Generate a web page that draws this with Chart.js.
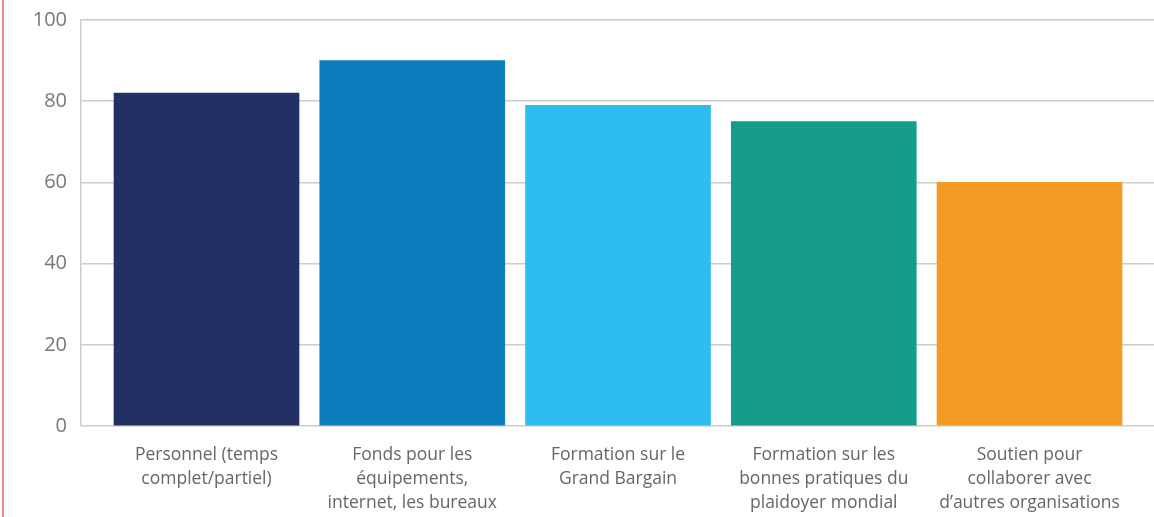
<!DOCTYPE html>
<html>
<head>
<meta charset="utf-8">
<script src="https://cdn.jsdelivr.net/npm/chart.js@4/dist/chart.umd.min.js"></script>
<style>
html,body{margin:0;padding:0;background:#fff;}
#wrap{position:relative;width:1154px;height:517px;}
#redline{position:absolute;left:2px;top:0;width:2px;height:517px;background:#f08a80;}
</style>
</head>
<body>
<div id="wrap">
<canvas id="c" width="1154" height="517"></canvas>
<div id="redline"></div>
</div>
<script>
const categories = [
  ["Personnel (temps", "complet/partiel)"],
  ["Fonds pour les", "équipements,", "internet, les bureaux"],
  ["Formation sur le", "Grand Bargain"],
  ["Formation sur les", "bonnes pratiques du", "plaidoyer mondial"],
  ["Soutien pour", "collaborer avec", "d’autres organisations"]
];
const values = [82, 90, 79, 75, 60];
const barColors = ["#233066", "#0e7dbf", "#2ebdf0", "#169c8b", "#f59a24"];
const yTicks = [0, 20, 40, 60, 80, 100];

const points = values.map((v, i) => ({x: i, y: v}));

new Chart(document.getElementById('c'), {
  type: 'bar',
  data: {
    datasets: [{
      data: points,
      backgroundColor: barColors,
      borderWidth: 0,
      barThickness: 185
    }]
  },
  options: {
    responsive: false,
    animation: false,
    layout: {padding: {top: 0, right: 0, bottom: 0, left: 0}},
    plugins: {legend: {display: false}, tooltip: {enabled: false}},
    scales: {
      x: {
        type: 'linear',
        offset: false,
        min: -0.61,
        max: 4.605,
        afterBuildTicks: (axis) => { axis.ticks = categories.map((_, i) => ({value: i})); },
        afterFit: (axis) => { axis.height = 91; },
        grid: {display: false, drawTicks: false},
        border: {display: false},
        ticks: {
          autoSkip: false,
          maxRotation: 0,
          padding: 17,
          color: '#666',
          font: {family: 'Open Sans', size: 17.5, lineHeight: '24px'},
          callback: (v) => categories[v] || ''
        }
      },
      y: {
        min: 0,
        max: 100,
        afterBuildTicks: (axis) => { axis.ticks = yTicks.map(v => ({value: v})); },
        afterFit: (axis) => { axis.width = 81; axis.paddingTop = 20; },
        grid: {color: '#cccccc', lineWidth: 1.5, drawTicks: false},
        border: {display: true, color: '#cccccc', width: 1.5},
        ticks: {
          padding: 14,
          color: '#777',
          font: {family: 'Open Sans', size: 20}
        }
      }
    }
  }
});
</script>
</body>
</html>
